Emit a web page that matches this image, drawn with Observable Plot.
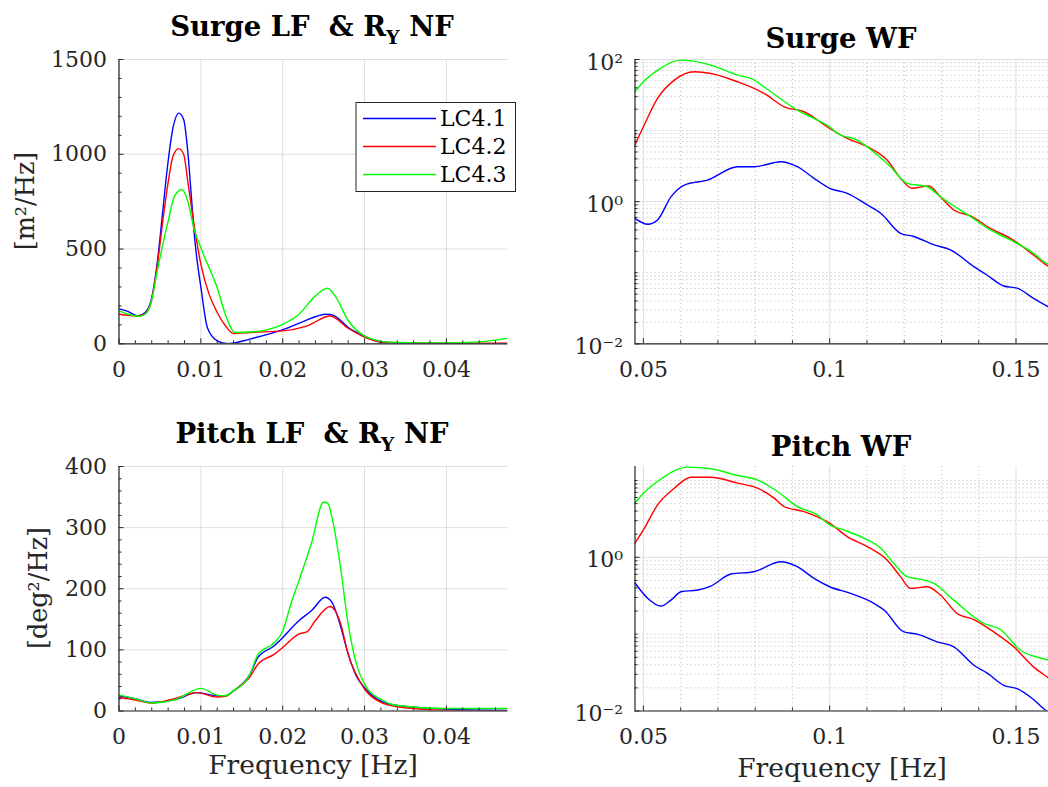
<!DOCTYPE html>
<html><head><meta charset="utf-8">
<script src="https://cdn.jsdelivr.net/npm/d3@7"></script>
<script src="https://cdn.jsdelivr.net/npm/@observablehq/plot@0.6"></script>
<style>
html,body{margin:0;padding:0;background:#fff;overflow:hidden;}
#wrap{position:relative;width:1048px;height:787px;overflow:hidden;font-family:"DejaVu Serif",serif;color:#262626;background:#fff;}
.cell{position:absolute;}
#overlay{position:absolute;left:0;top:0;pointer-events:none;}
</style></head><body><div id="wrap"></div>
<script>
// ---------- data ----------
const seriesNames = ["LC4.1", "LC4.2", "LC4.3"];

// Surge LF & R_Y NF  [frequency Hz, m^2/Hz]
const surgeLF_41 = [[0,184],[0.001,172],[0.0023,147],[0.0032,165],[0.0039,226],[0.0047,437],[0.0053,680],[0.0059,926],[0.0066,1140],[0.0073,1217],[0.0079,1184],[0.0084,1016],[0.0088,800],[0.0092,577],[0.0096,420],[0.01,300],[0.0108,85],[0.012,16],[0.0133,0],[0.016,25],[0.0202,77],[0.0222,112],[0.0254,156],[0.0262,150],[0.0283,77],[0.0299,42],[0.0323,7],[0.036,2],[0.04,1],[0.0475,0]];
const surgeLF_42 = [[0,156],[0.0023,147],[0.0032,160],[0.0039,215],[0.0047,420],[0.0053,630],[0.0059,822],[0.0066,990],[0.0073,1030],[0.0079,1000],[0.0084,858],[0.0092,620],[0.01,420],[0.011,262],[0.012,165],[0.013,95],[0.014,54],[0.016,60],[0.02,68],[0.023,95],[0.0258,147],[0.028,82],[0.03,35],[0.032,9],[0.036,4],[0.04,3],[0.0475,3]];
const surgeLF_43 = [[0,174],[0.0025,145],[0.0033,160],[0.0039,215],[0.0047,390],[0.006,647],[0.0068,780],[0.0077,814],[0.0084,753],[0.0092,601],[0.01,507],[0.011,402],[0.012,296],[0.013,155],[0.0142,60],[0.016,62],[0.02,103],[0.022,156],[0.024,253],[0.0255,293],[0.0265,246],[0.028,123],[0.03,42],[0.033,9],[0.04,4],[0.044,10],[0.0475,30]];

// Pitch LF & R_Y NF  [frequency Hz, deg^2/Hz]
const pitchLF_41 = [[0,25],[0.002,20],[0.004,14],[0.007,19],[0.0095,30],[0.012,25],[0.013,25],[0.014,33],[0.016,60],[0.017,88],[0.019,107],[0.02,120],[0.022,148],[0.0235,164],[0.0252,186],[0.026,178],[0.027,142],[0.028,93],[0.029,57],[0.03,38],[0.032,16],[0.034,9],[0.04,3],[0.0475,1]];
const pitchLF_42 = [[0,22],[0.002,18],[0.004,13],[0.007,21],[0.0095,30],[0.012,23],[0.013,24],[0.014,33],[0.016,56],[0.017,77],[0.019,93],[0.02,104],[0.022,126],[0.023,130],[0.024,148],[0.0258,171],[0.027,146],[0.028,93],[0.03,36],[0.032,14],[0.034,7],[0.04,1],[0.0475,0]];
const pitchLF_43 = [[0,26],[0.002,20],[0.004,13],[0.007,19],[0.01,37],[0.012,26],[0.013,25],[0.014,33],[0.016,60],[0.017,93],[0.019,112],[0.02,131],[0.021,175],[0.022,214],[0.0235,274],[0.025,342],[0.0255,340],[0.026,318],[0.027,241],[0.028,142],[0.029,77],[0.03,44],[0.032,19],[0.034,9],[0.04,4],[0.0475,4]];

// Surge WF  [frequency Hz, m^2/Hz]
const surgeWF_41 = [[0.0477,0.583],[0.0512,0.481],[0.0538,0.553],[0.0574,1.17],[0.061,1.71],[0.0672,2.01],[0.0753,3.1],[0.0797,3.1],[0.0869,3.65],[0.0913,3.1],[0.0958,2.13],[0.1,1.54],[0.1047,1.31],[0.1101,0.9],[0.1137,0.686],[0.119,0.359],[0.1226,0.323],[0.128,0.246],[0.1324,0.21],[0.1387,0.122],[0.1422,0.093],[0.1467,0.065],[0.1503,0.0606],[0.1547,0.0437],[0.1581,0.0345],[0.1592,0.032]];
const surgeWF_42 = [[0.0477,6.25],[0.05,11.3],[0.0538,28.3],[0.0583,51.2],[0.0637,67.2],[0.0681,63.6],[0.0753,48.5],[0.0824,33.3],[0.0878,21.6],[0.0931,18.4],[0.1,10.7],[0.1047,7.76],[0.1101,5.93],[0.1154,3.85],[0.119,2.13],[0.1221,1.54],[0.1266,1.66],[0.1297,1.17],[0.1333,0.764],[0.1378,0.63],[0.1431,0.42],[0.1485,0.305],[0.1547,0.178],[0.1581,0.129],[0.1592,0.12]];
const surgeWF_43 = [[0.0477,35.1],[0.05,48.5],[0.0538,70.8],[0.0601,97.9],[0.0628,95.8],[0.0681,83.3],[0.0753,60.3],[0.0788,54.1],[0.0842,35.2],[0.0913,19.4],[0.0958,14.8],[0.1,11.3],[0.1021,9.1],[0.1074,7.35],[0.1128,4.53],[0.1163,3.1],[0.1208,1.81],[0.1262,1.62],[0.1297,1.17],[0.1378,0.616],[0.1431,0.4],[0.1485,0.289],[0.1547,0.188],[0.1581,0.136],[0.1592,0.128]];

// Pitch WF  [frequency Hz, deg^2/Hz]
const pitchWF_41 = [[0.0477,0.467],[0.0512,0.292],[0.0547,0.232],[0.0574,0.277],[0.0601,0.356],[0.0646,0.375],[0.0681,0.423],[0.0735,0.606],[0.0797,0.65],[0.0869,0.877],[0.0913,0.756],[0.0958,0.532],[0.1,0.414],[0.1056,0.339],[0.1119,0.251],[0.1146,0.206],[0.1199,0.107],[0.1235,0.1],[0.1288,0.0794],[0.1333,0.0684],[0.1387,0.0394],[0.1422,0.0313],[0.1467,0.0216],[0.1503,0.0195],[0.1547,0.0141],[0.1581,0.0101],[0.1592,0.0094]];
const pitchWF_42 = [[0.0477,1.52],[0.05,2.27],[0.0538,4.81],[0.0583,7.94],[0.0628,11.0],[0.0681,11.0],[0.0753,9.23],[0.0806,7.94],[0.0851,5.89],[0.0878,4.58],[0.0931,3.94],[0.1,2.78],[0.1047,1.86],[0.1101,1.38],[0.1154,0.923],[0.119,0.56],[0.1217,0.394],[0.1262,0.414],[0.1297,0.323],[0.1342,0.186],[0.1387,0.155],[0.144,0.107],[0.1494,0.0684],[0.1547,0.0375],[0.1581,0.0283],[0.1592,0.026]];
const pitchWF_43 = [[0.0477,5.06],[0.05,6.83],[0.0538,9.7],[0.0619,14.9],[0.0681,14.2],[0.0753,11.6],[0.0806,10.2],[0.086,7.19],[0.0913,4.58],[0.0967,3.57],[0.1,2.64],[0.1038,2.27],[0.1092,1.77],[0.1137,1.31],[0.1172,0.835],[0.1208,0.56],[0.1253,0.506],[0.128,0.458],[0.1333,0.277],[0.1413,0.138],[0.1458,0.115],[0.1512,0.0618],[0.1581,0.0468],[0.1592,0.045]];

// tick values & labels
const lfXTicks = [0, 0.01, 0.02, 0.03, 0.04];
const lfXTickLabels = ["0", "0.01", "0.02", "0.03", "0.04"];
const surgeLFYTicks = [0, 500, 1000, 1500];
const surgeLFYTickLabels = ["0", "500", "1000", "1500"];
const pitchLFYTicks = [0, 100, 200, 300, 400];
const pitchLFYTickLabels = ["0", "100", "200", "300", "400"];
const wfXTicks = [0.05, 0.1, 0.15];
const wfXTickLabels = ["0.05", "0.1", "0.15"];
const surgeWFYTicks = [0.01, 1, 100];
const surgeWFYTickLabels = ["10\u207B\u00B2", "10\u2070", "10\u00B2"];
const pitchWFYTicks = [0.01, 1];
const pitchWFYTickLabels = ["10\u207B\u00B2", "10\u2070"];

// ---------- styles ----------
const FONT = "DejaVu Serif";
const colors = ["#0000ff", "#ff0000", "#00ff00"];
const axisColor = "#262626";
const gridColor = "#dedede";
const minorGridColor = "#a8a8a8";
const tickFont = 22;

function range(a, b, step, skip) {
  const out = [];
  for (let i = 0; ; i++) {
    const v = +(a + i * step).toFixed(10);
    if (v > b + 1e-12) break;
    if (!skip.some(s => Math.abs(s - v) < step * 1e-3)) out.push(v);
  }
  return out;
}
function logMinor(lo, hi, majors) {
  const out = [];
  for (let e = Math.floor(Math.log10(lo)); e <= Math.ceil(Math.log10(hi)); e++)
    for (let m = 1; m <= 9; m++) {
      const v = +(m * Math.pow(10, e)).toPrecision(6);
      if (v >= lo * 0.999 && v <= hi * 1.001 && !majors.some(s => Math.abs(s - v) < v * 1e-6)) out.push(v);
    }
  return out;
}

function panel(o) {
  const fw = o.width - o.mL - o.mR, fh = o.height - o.mT - o.mB;
  const marks = [];
  if (o.xMinorGrid) marks.push(Plot.ruleX(o.xMinorGrid, {x: d => d, stroke: minorGridColor, strokeWidth: 0.8, strokeDasharray: "1,3"}));
  if (o.yMinorGrid) marks.push(Plot.ruleY(o.yMinorGrid, {y: d => d, stroke: minorGridColor, strokeWidth: 0.8, strokeDasharray: "1,3"}));
  marks.push(Plot.ruleX(o.xTicks, {x: d => d, stroke: gridColor, strokeWidth: 1}));
  marks.push(Plot.ruleY(o.yTicks, {y: d => d, stroke: gridColor, strokeWidth: 1}));
  o.series.forEach((s, i) => {
    marks.push(Plot.line(s, {x: d => d[0], y: d => d[1], stroke: colors[i], strokeWidth: 1.4, curve: "monotone-x", clip: true}));
  });
  marks.push(Plot.ruleX([o.xDomain[0]], {x: d => d, stroke: axisColor, strokeWidth: 1.2}));
  marks.push(Plot.ruleY([o.yDomain[0]], {y: d => d, stroke: axisColor, strokeWidth: 1.2}));
  marks.push(Plot.tickX(o.xTicks, {x: d => d, insetTop: fh - 5, stroke: axisColor}));
  marks.push(Plot.tickX(o.xMinor, {x: d => d, insetTop: fh - 3, stroke: axisColor}));
  marks.push(Plot.tickY(o.yTicks, {y: d => d, insetRight: fw - 5, stroke: axisColor}));
  marks.push(Plot.tickY(o.yMinor, {y: d => d, insetRight: fw - 3, stroke: axisColor}));
  marks.push(Plot.text(o.xTicks.map((t, i) => ({t, s: o.xLabels[i]})), {
    x: "t", text: "s", frameAnchor: "bottom", lineAnchor: "middle", dy: 26,
    fontFamily: FONT, fontSize: tickFont, fill: axisColor}));
  marks.push(Plot.text(o.yTicks.map((t, i) => ({t, s: o.yLabels[i]})), {
    y: "t", text: "s", frameAnchor: "left", textAnchor: "end", lineAnchor: "middle", dx: -12, dy: o.yLabelDy || 0,
    fontFamily: FONT, fontSize: tickFont, fill: axisColor}));
  const svg = Plot.plot({
    width: o.width, height: o.height,
    marginLeft: o.mL, marginRight: o.mR, marginTop: o.mT, marginBottom: o.mB,
    x: {type: "linear", domain: o.xDomain, axis: null},
    y: {type: o.yType || "linear", domain: o.yDomain, axis: null},
    style: {fontFamily: FONT, background: "transparent", overflow: "visible"},
    marks
  });
  svg.setAttribute("font-family", FONT);
  svg.classList.add("cell");
  svg.style.left = o.left + "px";
  svg.style.top = o.top + "px";
  return svg;
}

const wrap = document.getElementById("wrap");
const lfXDomain = [0, 0.0475];
const wfXDomain = [0.04775, 0.15915];
const lfXMinor = range(0, 0.0475, 0.002, lfXTicks);
const wfXMinor = range(0.05, 0.159, 0.01, wfXTicks);

wrap.appendChild(panel({
  left: 0, top: 0, width: 524, height: 390, mL: 118.5, mR: 16.7, mT: 59, mB: 46.7,
  xDomain: lfXDomain, yDomain: [0, 1500],
  xTicks: lfXTicks, xLabels: lfXTickLabels, xMinor: lfXMinor,
  yTicks: surgeLFYTicks, yLabels: surgeLFYTickLabels, yMinor: range(0, 1500, 100, surgeLFYTicks),
  series: [surgeLF_41, surgeLF_42, surgeLF_43]
}));
wrap.appendChild(panel({
  left: 0, top: 390, width: 524, height: 397, mL: 118.5, mR: 16.7, mT: 76, mB: 76.5,
  xDomain: lfXDomain, yDomain: [0, 400],
  xTicks: lfXTicks, xLabels: lfXTickLabels, xMinor: lfXMinor,
  yTicks: pitchLFYTicks, yLabels: pitchLFYTickLabels, yMinor: range(0, 400, 20, pitchLFYTicks),
  series: [pitchLF_41, pitchLF_42, pitchLF_43]
}));
const surgeWFYMinor = logMinor(0.01, 100, surgeWFYTicks);
wrap.appendChild(panel({
  left: 524, top: 0, width: 530, height: 390, mL: 110.5, mR: 4.4, mT: 59, mB: 46.7,
  xDomain: wfXDomain, yDomain: [0.01, 100], yType: "log",
  xTicks: wfXTicks, xLabels: wfXTickLabels, xMinor: wfXMinor, xMinorGrid: wfXMinor,
  yTicks: surgeWFYTicks, yLabels: surgeWFYTickLabels, yMinor: surgeWFYMinor, yMinorGrid: surgeWFYMinor, yLabelDy: 3,
  series: [surgeWF_41, surgeWF_42, surgeWF_43]
}));
const pitchWFYMinor = logMinor(0.01, 15.2, pitchWFYTicks);
wrap.appendChild(panel({
  left: 524, top: 390, width: 530, height: 397, mL: 110.5, mR: 4.4, mT: 76, mB: 76.5,
  xDomain: wfXDomain, yDomain: [0.01, 15.2], yType: "log",
  xTicks: wfXTicks, xLabels: wfXTickLabels, xMinor: wfXMinor, xMinorGrid: wfXMinor,
  yTicks: pitchWFYTicks, yLabels: pitchWFYTickLabels, yMinor: pitchWFYMinor, yMinorGrid: pitchWFYMinor, yLabelDy: 3,
  series: [pitchWF_41, pitchWF_42, pitchWF_43]
}));

// ---------- overlay: titles, axis labels, legend ----------
const ov = d3.select(wrap).append("svg").attr("id", "overlay")
  .attr("width", 1048).attr("height", 787)
  .attr("font-family", FONT);

const titleSize = 27.5;
function titleLF(cx, y, word) {
  const t = ov.append("text").attr("x", cx).attr("y", y).attr("text-anchor", "middle")
    .attr("font-weight", "bold").attr("font-size", titleSize).attr("fill", "#000");
  t.append("tspan").text(word + " LF \u00A0& R");
  t.append("tspan").attr("dy", 8).attr("font-size", 19).text("Y");
  t.append("tspan").attr("dy", -8).text(" NF");
}
function titleWF(cx, y, txt) {
  ov.append("text").attr("x", cx).attr("y", y).attr("text-anchor", "middle")
    .attr("font-weight", "bold").attr("font-size", titleSize).attr("fill", "#000").text(txt);
}
titleLF(312, 36, "Surge");
titleLF(312, 443, "Pitch");
titleWF(841, 48, "Surge WF");
titleWF(841, 456, "Pitch WF");

function xlabel(cx, y) {
  ov.append("text").attr("x", cx).attr("y", y).attr("text-anchor", "middle")
    .attr("font-size", 26.5).attr("fill", axisColor).text("Frequency [Hz]");
}
xlabel(313, 774);
xlabel(842, 777);
function ylabel(cx, cy, txt) {
  ov.append("text").attr("transform", `translate(${cx},${cy}) rotate(-90)`)
    .attr("text-anchor", "middle").attr("dominant-baseline", "central")
    .attr("font-size", 25.5).attr("fill", axisColor).text(txt);
}
ylabel(25, 201, "[m\u00B2/Hz]");
ylabel(38, 588, "[deg\u00B2/Hz]");

// legend
const lg = ov.append("g");
lg.append("rect").attr("x", 356).attr("y", 102.5).attr("width", 159.5).attr("height", 89)
  .attr("fill", "#fff").attr("stroke", axisColor).attr("stroke-width", 1);
seriesNames.forEach((name, i) => {
  const y = 118.5 + i * 28;
  lg.append("line").attr("x1", 363).attr("x2", 436).attr("y1", y).attr("y2", y)
    .attr("stroke", colors[i]).attr("stroke-width", 1.4);
  lg.append("text").attr("x", 440).attr("y", y).attr("dominant-baseline", "central")
    .attr("font-size", tickFont).attr("fill", "#000").text(name);
});
</script></body></html>
